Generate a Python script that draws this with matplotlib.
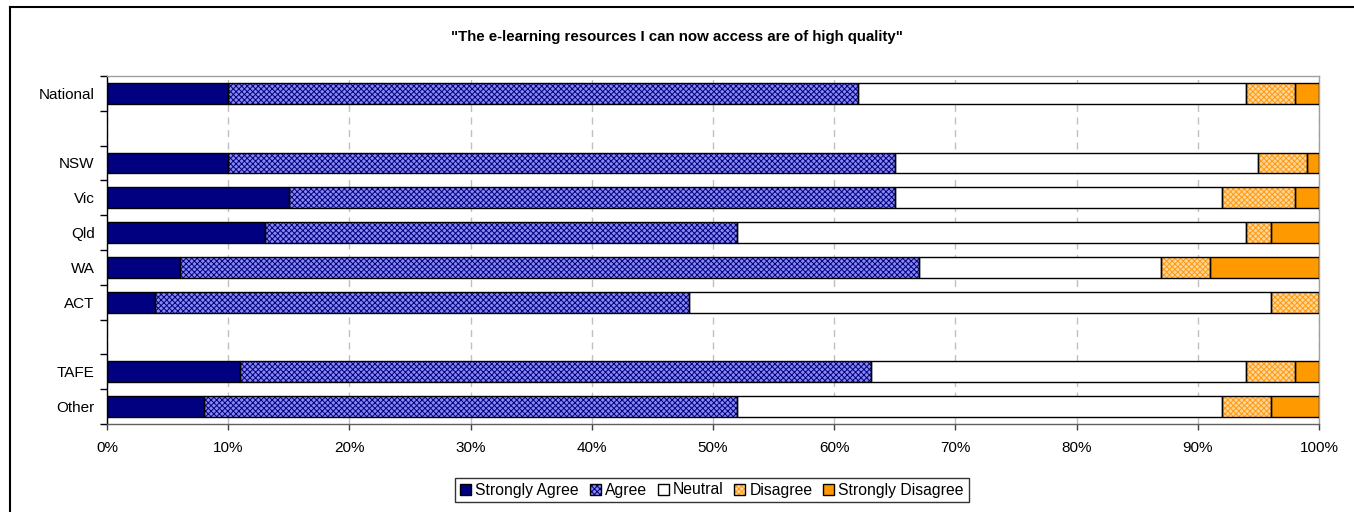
import numpy as np
import matplotlib
matplotlib.use('Agg')
import matplotlib.pyplot as plt
from matplotlib.patches import Patch
from matplotlib.lines import Line2D

plt.rcParams['font.family'] = ['Liberation Sans', 'DejaVu Sans']
plt.rcParams['hatch.linewidth'] = 0.7

title = '"The e-learning resources I can now access are of high quality"'

# rows are drawn in groups, with an empty row between groups
groups = [['National'], ['NSW', 'Vic', 'Qld', 'WA', 'ACT'], ['TAFE', 'Other']]

series = ['Strongly Agree', 'Agree', 'Neutral', 'Disagree', 'Strongly Disagree']
strongly_agree = [10, 10, 15, 13, 6, 4, 11, 8]
agree = [52, 55, 50, 39, 61, 44, 52, 44]
neutral = [32, 30, 27, 42, 20, 48, 31, 40]
disagree = [4, 4, 6, 2, 4, 4, 4, 4]
strongly_disagree = [2, 1, 2, 4, 9, 0, 2, 4]

x_ticks = [0, 10, 20, 30, 40, 50, 60, 70, 80, 90, 100]

# fill, hatch, hatch colour
styles = [
    ('#000080', None, '#000080'),
    ('#8888ee', 'xxxxxx', '#000080'),
    ('#ffffff', None, '#ffffff'),
    ('#ffd699', 'xxxxxx', '#ff9a10'),
    ('#ff9900', None, '#ff9900'),
]

labels = []
ypos = []
row = 0
for g in groups:
    for name in g:
        labels.append(name)
        ypos.append(row)
        row += 1
    row += 1
nrows = row - 1
ypos = np.array(ypos)

fig = plt.figure(figsize=(13.54, 5.12), dpi=100)
ax = fig.add_axes([107 / 1354, 1 - 424 / 512, (1319 - 107) / 1354, 348 / 512])

values = [strongly_agree, agree, neutral, disagree, strongly_disagree]
left = np.zeros(len(labels))
for vals, (fc, hatch, hc) in zip(values, styles):
    vals = np.array(vals, dtype=float)
    ax.barh(ypos, vals, left=left, height=0.6, color=fc, hatch=hatch,
            edgecolor=hc, linewidth=0, zorder=2)
    ax.barh(ypos, vals, left=left, height=0.6, fill=False,
            edgecolor='black', linewidth=1.0, zorder=3)
    left += vals

ax.set_xlim(0, 100)
ax.set_ylim(nrows - 0.5, -0.5)
ax.set_xticks(x_ticks)
ax.set_xticklabels([f'{t}%' for t in x_ticks], fontsize=11)
ax.set_yticks(np.arange(-0.5, nrows, 1.0))
ax.set_yticklabels([])
ax.set_yticks(ypos, labels, minor=True)
ax.tick_params(axis='y', which='major', length=5, width=1, color='black', direction='out')
ax.tick_params(axis='y', which='minor', length=0, pad=9, labelsize=11)
ax.tick_params(axis='x', length=4, width=1, color='#404040', pad=8)

ax.grid(axis='x', color='#c0c0c0', linestyle=(0, (5, 4)), linewidth=1, zorder=0)
ax.set_axisbelow(True)
ax.spines['left'].set_color('black')
ax.spines['bottom'].set_color('#606060')
ax.spines['top'].set_color('#a0a0a0')
ax.spines['right'].set_color('#a0a0a0')
for s in ax.spines.values():
    s.set_linewidth(1)

fig.text(677 / 1354, 1 - 37 / 512, title, ha='center', va='center',
         fontsize=10.8, fontweight='bold')

handles = []
for name, (fc, hatch, hc) in zip(series, styles):
    handles.append((Patch(facecolor=fc, hatch=hatch, edgecolor=hc, linewidth=0),
                    Patch(fill=False, edgecolor='black', linewidth=1)))
leg = fig.legend(handles, series, loc='center', bbox_to_anchor=(712 / 1354, 1 - 490 / 512),
                 ncol=5, fontsize=11.3, frameon=True, fancybox=False, edgecolor='black',
                 handlelength=0.7, handleheight=0.7, handletextpad=0.25,
                 columnspacing=0.7, borderpad=0.3)
leg.get_frame().set_linewidth(1)

# chart border (only left and top edges visible in the crop)
fig.add_artist(Line2D([10 / 1354, 10 / 1354], [0, 1 - 7 / 512], color='black', linewidth=1.5))
fig.add_artist(Line2D([10 / 1354, 1], [1 - 7 / 512, 1 - 7 / 512], color='black', linewidth=1.5))

fig.savefig('out.png', dpi=100, facecolor='white')
